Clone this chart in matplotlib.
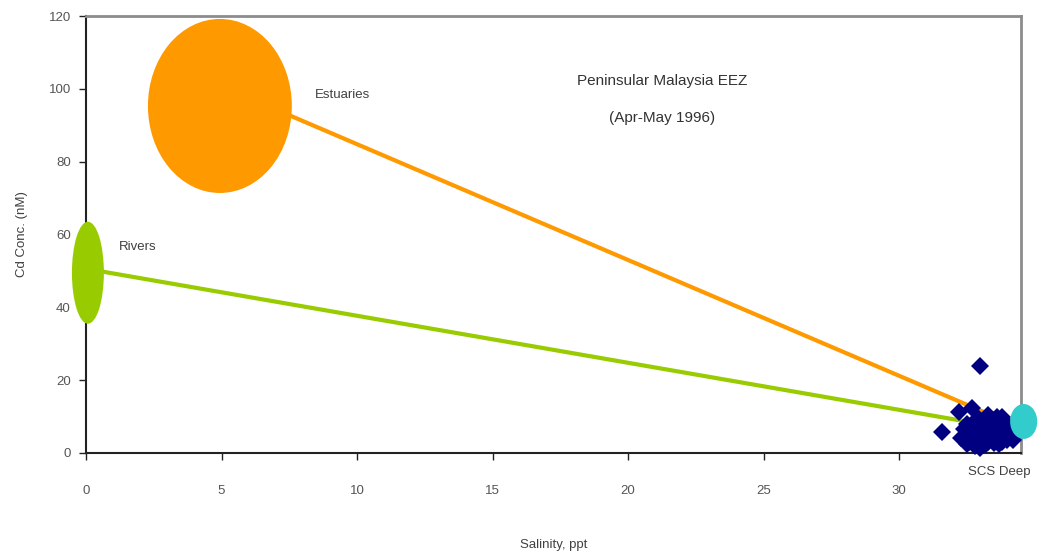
import matplotlib
matplotlib.use("Agg")
import matplotlib.pyplot as plt
from matplotlib.patches import Ellipse

plt.rcParams['font.family'] = ['Liberation Sans', 'DejaVu Sans']

# Sample points (salinity ppt, Cd nM)
salinity = [31.6, 32.2, 32.7, 33.0, 32.4, 32.6, 32.8, 32.9, 33.0, 33.1,
            33.2, 33.3, 33.4, 33.5, 33.6, 33.7, 33.8, 33.9, 34.0, 34.1,
            34.2, 33.2, 33.5, 33.8, 32.5, 32.9, 33.3, 33.6, 34.0, 32.3,
            32.7, 33.1, 33.4, 33.9, 34.1, 32.8, 33.0, 33.7, 34.2, 32.5,
            34.3, 34.3, 33.6, 33.2, 32.6]
cd = [5.8, 11.3, 12.3, 24.0, 6.5, 4.5, 2.0, 3.5, 7.0, 5.0,
      8.5, 3.0, 6.0, 9.0, 4.5, 7.5, 10.0, 5.5, 3.5, 6.5,
      4.5, 2.5, 2.8, 3.0, 8.0, 9.5, 10.5, 6.5, 8.0, 4.0,
      6.0, 4.0, 4.5, 4.0, 5.0, 7.8, 1.5, 2.5, 3.5, 2.5,
      5.5, 7.0, 9.8, 6.0, 3.0]

# End members: (name, salinity, Cd, width, height)
members = ["Rivers", "Estuaries", "SCS Deep"]
member_sal = [0.07, 4.94, 34.6]
member_cd = [49.5, 95.3, 8.65]
member_w = [1.18, 5.31, 1.0]
member_h = [28.0, 47.8, 9.6]
member_colors = ["#99CC00", "#FF9900", "#33CCCC"]

# Mixing lines
orange_x = [5.0, 33.4]
orange_y = [100.7, 10.4]
green_x = [0.07, 32.6]
green_y = [50.5, 8.5]

xticks = [0, 5, 10, 15, 20, 25, 30]
yticks = [0, 20, 40, 60, 80, 100, 120]

fig = plt.figure(figsize=(10.4, 5.56), dpi=100)
ax = fig.add_axes([0.0827, 0.1853, 0.9817 - 0.0827, 0.9712 - 0.1853])

ax.plot(orange_x, orange_y, color="#FF9900", lw=3, zorder=2, solid_capstyle='butt')
ax.plot(green_x, green_y, color="#99CC00", lw=3, zorder=2, solid_capstyle='butt')

for i, m in enumerate(members):
    if m == "SCS Deep":
        continue
    e = Ellipse((member_sal[i], member_cd[i]), member_w[i], member_h[i],
                facecolor=member_colors[i], edgecolor='none', zorder=3, clip_on=False)
    ax.add_patch(e)

ax.plot(salinity, cd, linestyle='none', marker='D', ms=9.5, color='#000080',
        markeredgewidth=0, zorder=4, clip_on=False)

i = members.index("SCS Deep")
e = Ellipse((member_sal[i], member_cd[i]), member_w[i], member_h[i],
            facecolor=member_colors[i], edgecolor='none', zorder=5, clip_on=False)
ax.add_patch(e)

ax.set_xlim(0, 34.5)
ax.set_ylim(0, 120)
ax.set_xticks(xticks)
ax.set_yticks(yticks)

txtc = '#404040'
ax.tick_params(axis='x', direction='out', length=5, width=1, pad=18, labelsize=9.5, labelcolor='#555555', color='#222222')
ax.tick_params(axis='y', direction='out', length=5, width=1, pad=6, labelsize=9.5, labelcolor='#555555', color='#222222')

for s in ['left', 'bottom']:
    ax.spines[s].set_color('#222222')
    ax.spines[s].set_linewidth(1.5)
for s in ['top', 'right']:
    ax.spines[s].set_color('#8c8c8c')
    ax.spines[s].set_linewidth(2)

ax.set_xlabel("Salinity, ppt", fontsize=9.5, color=txtc, labelpad=30)
ax.set_ylabel("Cd Conc. (nM)", fontsize=9.5, color=txtc, labelpad=15)

ax.text(21.25, 102.2, "Peninsular Malaysia EEZ", fontsize=11, color='#333333', ha='center', va='center')
ax.text(21.25, 92.0, "(Apr-May 1996)", fontsize=11, color='#333333', ha='center', va='center')
ax.text(8.45, 98.3, "Estuaries", fontsize=9.5, color=txtc, ha='left', va='center')
ax.text(1.22, 56.6, "Rivers", fontsize=9.5, color=txtc, ha='left', va='center')
ax.text(32.55, -5.2, "SCS Deep", fontsize=9.5, color=txtc, ha='left', va='center')

fig.savefig("out.png", dpi=100)
